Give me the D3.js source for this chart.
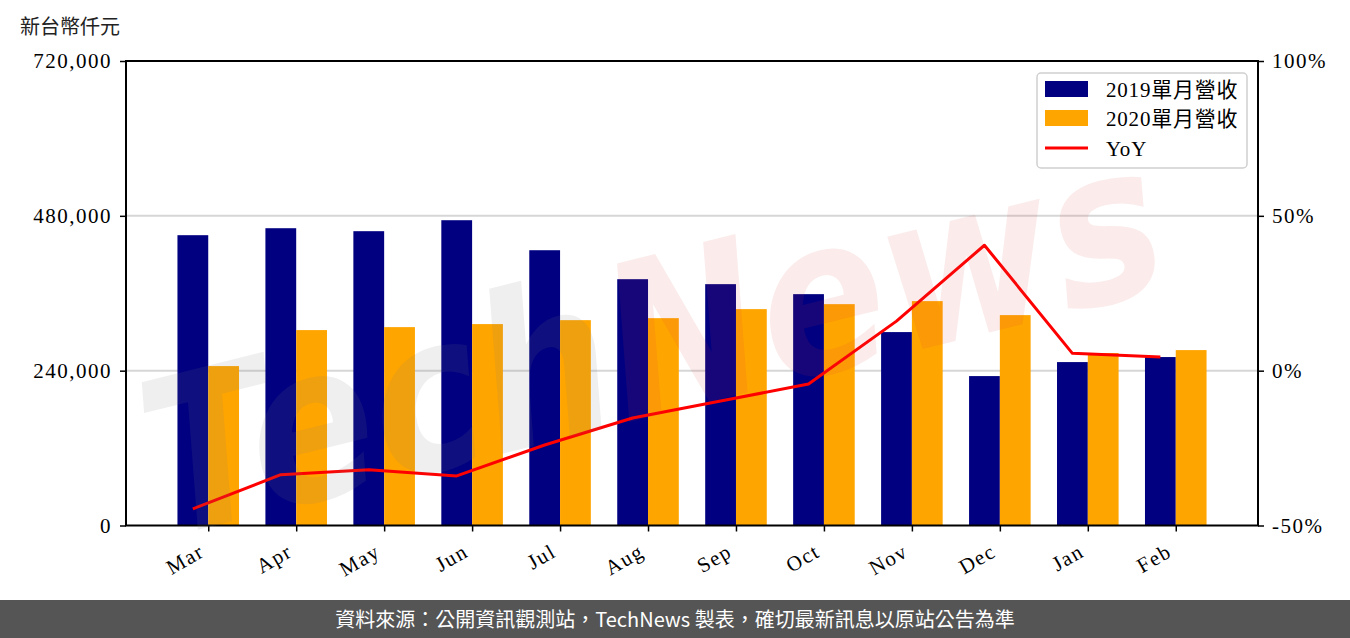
<!DOCTYPE html>
<html>
<head>
<meta charset="utf-8">
<script src="https://cdn.jsdelivr.net/npm/d3@7"></script>
<style>
  html, body { margin: 0; padding: 0; background: #fff; }
  svg { display: block; }
</style>
</head>
<body>
<svg id="chart" width="1350" height="638"></svg>
<script>
// ---- data ----
const months = ["Mar","Apr","May","Jun","Jul","Aug","Sep","Oct","Nov","Dec","Jan","Feb"];
const rev2019 = [450000, 460800, 456200, 473200, 426700, 381800, 374100, 358600, 299800, 231600, 253300, 261100];
const rev2020 = [247100, 302900, 307500, 312200, 318300, 321400, 335400, 343100, 347800, 326100, 267300, 271900];
const yoy = [-44.6, -33.6, -32.0, -34.0, -24.0, -15.3, -9.8, -4.3, 16.0, 40.5, 5.6, 4.4];
const leftTicks = [0, 240000, 480000, 720000];
const rightTicks = [-50, 0, 50, 100];
const seriesNames = ["2019單月營收", "2020單月營收", "YoY"];
const unitLabel = "新台幣仟元";
const footerText = "資料來源：公開資訊觀測站，TechNews 製表，確切最新訊息以原站公告為準";

// ---- layout ----
const L = 126, R = 1258, T = 61, B = 525.5;
const serif = "'Liberation Serif', 'Times New Roman', serif";
const cjk = "'Noto Sans CJK TC', 'Noto Sans CJK SC', sans-serif";
const svg = d3.select("#chart");

const barW = 0.35;
const x = d3.scaleLinear().domain([-0.935, months.length - 1 + 0.935]).range([L, R]);
const y = d3.scaleLinear().domain([0, 720000]).range([B, T]);
const y2 = d3.scaleLinear().domain([-50, 100]).range([B, T]);

// gridlines
svg.append("g").selectAll("line").data(leftTicks.filter(d => d > 0 && d < 720000)).join("line")
  .attr("x1", L).attr("x2", R).attr("y1", d => y(d)).attr("y2", d => y(d))
  .attr("stroke", "#d6d6d6").attr("stroke-width", 2);

// bars
svg.append("g").selectAll("rect").data(rev2019).join("rect")
  .attr("x", (d, i) => x(i - barW)).attr("width", x(barW) - x(0))
  .attr("y", d => y(d)).attr("height", d => B - y(d)).attr("fill", "#000080");
svg.append("g").selectAll("rect").data(rev2020).join("rect")
  .attr("x", (d, i) => x(i)).attr("width", x(barW) - x(0))
  .attr("y", d => y(d)).attr("height", d => B - y(d)).attr("fill", "#FFA500");

// YoY line
const line = d3.line().x((d, i) => x(i - barW / 2)).y(d => y2(d));
svg.append("path").datum(yoy).attr("d", line)
  .attr("fill", "none").attr("stroke", "#FF0000").attr("stroke-width", 3)
  .attr("stroke-linejoin", "round");

// axes
const fmt = d3.format(",");
const leftAxis = d3.axisLeft(y).tickValues(leftTicks).tickFormat(d => fmt(d)).tickSizeOuter(0).tickSize(6).tickPadding(8);
const rightAxis = d3.axisRight(y2).tickValues(rightTicks).tickFormat(d => d + "%").tickSizeOuter(0).tickSize(6).tickPadding(8);
const bottomAxis = d3.axisBottom(x).tickValues(d3.range(months.length)).tickFormat(i => months[i]).tickSizeOuter(0).tickSize(6);

function styleAxis(g) {
  g.select(".domain").remove();
  g.selectAll(".tick line").attr("stroke", "#000").attr("stroke-width", 1.5);
  g.selectAll("text").attr("font-family", serif).attr("font-size", 21).attr("fill", "#000").attr("letter-spacing", 1.5);
}
svg.append("g").attr("transform", `translate(${L},0)`).call(leftAxis).call(styleAxis);
svg.append("g").attr("transform", `translate(${R},0)`).call(rightAxis).call(styleAxis);
const bx = svg.append("g").attr("transform", `translate(0,${B})`).call(bottomAxis).call(styleAxis);
bx.selectAll(".tick text")
  .attr("text-anchor", "end")
  .attr("dy", null).attr("y", 0)
  .attr("transform", "translate(-3,30) rotate(-30)");

// spines
svg.append("rect").attr("x", L).attr("y", T).attr("width", R - L).attr("height", B - T)
  .attr("fill", "none").attr("stroke", "#000").attr("stroke-width", 2);

// watermark
const wm = svg.append("g").attr("transform", "translate(650,350) rotate(-14)")
  .attr("font-family", "'DejaVu Sans', sans-serif").attr("font-weight", "bold").attr("font-style", "italic")
  .attr("font-size", 215);
const wmText = wm.append("text").attr("x", -515).attr("y", 65).attr("textLength", 1040).attr("lengthAdjust", "spacingAndGlyphs");
wmText.append("tspan").text("Tech").attr("fill", "rgba(120,120,120,0.12)");
wmText.append("tspan").text("News").attr("fill", "rgba(215,60,60,0.1)");

// unit label
svg.append("text").attr("x", 20).attr("y", 34).text(unitLabel)
  .attr("font-family", cjk).attr("font-size", 20).attr("fill", "#222");

// legend
const lg = svg.append("g");
lg.append("rect").attr("x", 1037).attr("y", 73).attr("width", 210).attr("height", 95)
  .attr("rx", 4).attr("fill", "rgba(255,255,255,0.85)").attr("stroke", "#d0d0d0").attr("stroke-width", 1.5);
const legendColors = ["#000080", "#FFA500", "#FF0000"];
const rowY = [89, 118, 148];
seriesNames.forEach((name, i) => {
  if (i < 2) {
    lg.append("rect").attr("x", 1045).attr("y", rowY[i] - 8).attr("width", 43).attr("height", 16).attr("fill", legendColors[i]);
  } else {
    lg.append("line").attr("x1", 1045).attr("x2", 1088).attr("y1", rowY[i]).attr("y2", rowY[i])
      .attr("stroke", legendColors[i]).attr("stroke-width", 3);
  }
  lg.append("text").attr("x", 1106).attr("y", rowY[i]).attr("dy", "0.36em").text(name)
    .attr("font-family", serif + ", " + cjk).attr("font-size", 21).attr("fill", "#000").attr("letter-spacing", 0.8);
});

// footer
svg.append("rect").attr("x", 0).attr("y", 600).attr("width", 1350).attr("height", 38).attr("fill", "#555555");
svg.append("text").attr("x", 675).attr("y", 620).attr("dy", "0.35em").attr("text-anchor", "middle")
  .text(footerText).attr("font-family", cjk).attr("font-size", 20).attr("fill", "#fff");
</script>
</body>
</html>
